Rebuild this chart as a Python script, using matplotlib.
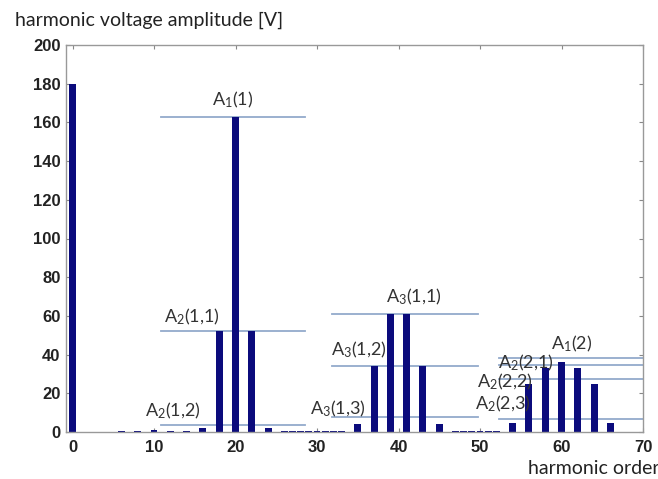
import matplotlib
matplotlib.use("Agg")
import matplotlib.pyplot as plt

# ---- data ----
orders = [0, 6, 8, 10, 12, 14, 16, 18, 20, 22, 24,
          26, 27, 28, 29, 30, 31, 32, 33,
          35, 37, 39, 41, 43, 45,
          47, 48, 49, 50, 51, 52,
          54, 56, 58, 60, 62, 64, 66]
amplitudes = [180, 0.6, 0.6, 0.8, 0.6, 0.6, 2.2, 52, 163, 52, 2.0,
              0.5, 0.5, 0.5, 0.5, 0.5, 0.5, 0.5, 0.6,
              4, 34, 61, 61, 34, 4,
              0.5, 0.5, 0.5, 0.5, 0.5, 0.5,
              4.5, 25, 33, 36, 33, 25, 4.5]

# reference levels: (level, x start, x end)
line_levels = [163, 52, 3.6, 61, 34, 7.5, 38, 34.6, 27.2, 6.6]
line_starts = [10.8, 10.8, 10.8, 31.8, 31.8, 31.8, 52.3, 52.3, 52.3, 52.3]
line_ends = [28.5, 28.5, 28.5, 49.7, 49.7, 49.7, 70, 70, 70, 70]

label_texts = [r"$\mathregular{A_1(1)}$", r"$\mathregular{A_2(1{,}1)}$", r"$\mathregular{A_2(1{,}2)}$",
               r"$\mathregular{A_3(1{,}1)}$", r"$\mathregular{A_3(1{,}2)}$", r"$\mathregular{A_3(1{,}3)}$",
               r"$\mathregular{A_1(2)}$", r"$\mathregular{A_2(2{,}1)}$", r"$\mathregular{A_2(2{,}2)}$",
               r"$\mathregular{A_2(2{,}3)}$"]
label_x = [19.7, 14.7, 12.3, 41.9, 35.1, 32.6, 61.2, 55.6, 53.0, 52.8]
label_y = [171.5, 59.6, 10.9, 69.9, 42.4, 12.2, 45.8, 35.8, 26.0, 14.6]

xticks = list(range(0, 71, 10))
yticks = list(range(0, 201, 20))

# ---- plot ----
plt.rcParams['font.family'] = ['Lato', 'DejaVu Sans']
plt.rcParams['mathtext.fontset'] = 'custom'
plt.rcParams['mathtext.rm'] = 'Lato'

fig = plt.figure(figsize=(6.58, 4.79), dpi=100)
ax = fig.add_axes([66/658, 1-432/479, (643-66)/658, (432-45)/479])

bar_color = "#0b0b7c"
line_color = "#93aacb"

for lv, s, e in zip(line_levels, line_starts, line_ends):
    ax.plot([s, e], [lv, lv], color=line_color, lw=1.3, zorder=1)

ax.bar(orders, amplitudes, width=0.85, color=bar_color, zorder=2)

for t, x, y in zip(label_texts, label_x, label_y):
    ax.text(x, y, t, ha="center", va="center", fontsize=13, color="#333333", zorder=3)

ax.set_xlim(-0.8, 70)
ax.set_ylim(0, 200)
ax.set_xticks(xticks)
ax.set_yticks(yticks)
ax.tick_params(direction="in", top=True, right=True, length=3, color="#888888")
for lab in ax.get_xticklabels() + ax.get_yticklabels():
    lab.set_fontfamily("Liberation Sans")
    lab.set_fontweight("bold")
    lab.set_fontsize(12)
    lab.set_color("#222222")
ax.tick_params(axis="x", pad=6)
ax.tick_params(axis="y", pad=4)
for sp in ax.spines.values():
    sp.set_color("#999999")
    sp.set_linewidth(1.0)

fig.text(15/658, 1-20/479, "harmonic voltage amplitude [V]", ha="left", va="center",
         fontsize=14, color="#222222")
fig.text(528/658, 1-468/479, "harmonic order", ha="left", va="center",
         fontsize=14, color="#222222")

fig.savefig("out.png", dpi=100)
